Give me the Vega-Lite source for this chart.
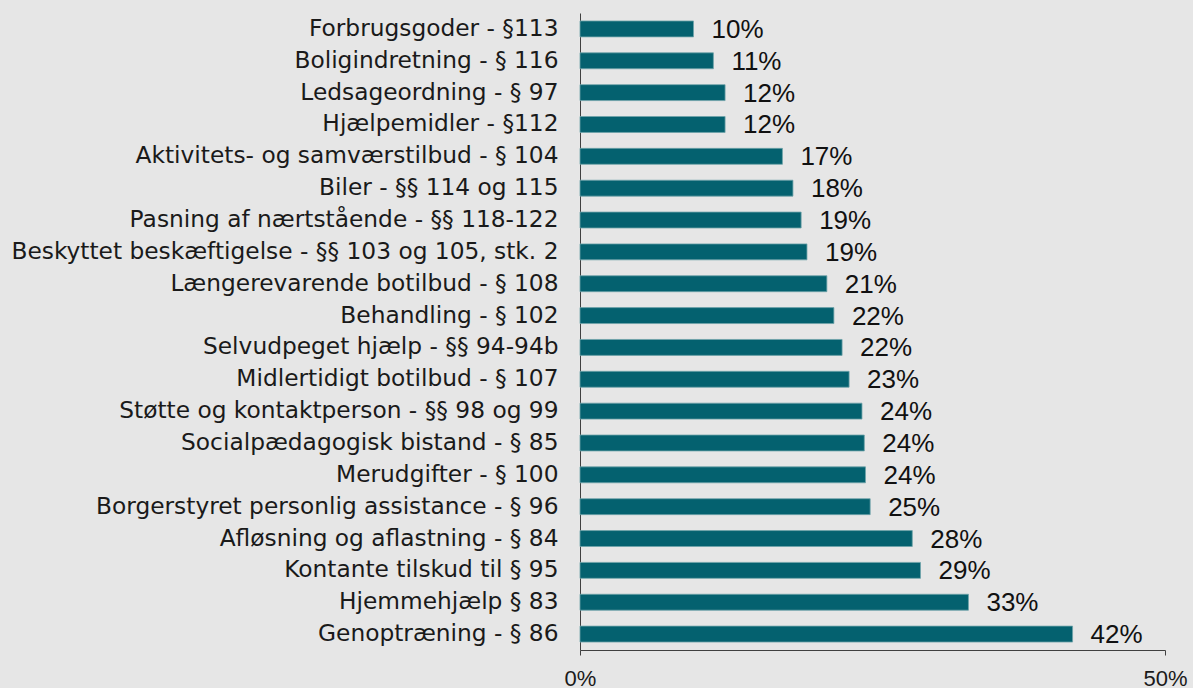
{
  "$schema": "https://vega.github.io/schema/vega-lite/v6.json",
  "width": 585,
  "height": 637,
  "autosize": {"type": "none"},
  "padding": {"left": 580, "top": 13, "right": 28, "bottom": 38},
  "background": "#e6e6e6",
  "config": {"view": {"stroke": null}},
  "data": {"values": [
    {"cat": "Forbrugsgoder - §113", "v": 0.097},
    {"cat": "Boligindretning - § 116", "v": 0.114},
    {"cat": "Ledsageordning - § 97", "v": 0.124},
    {"cat": "Hjælpemidler - §112", "v": 0.124},
    {"cat": "Aktivitets- og samværstilbud - § 104", "v": 0.173},
    {"cat": "Biler - §§ 114 og 115", "v": 0.182},
    {"cat": "Pasning af nærtstående - §§ 118-122", "v": 0.189},
    {"cat": "Beskyttet beskæftigelse - §§ 103 og 105, stk. 2", "v": 0.194},
    {"cat": "Længerevarende botilbud - § 108", "v": 0.211},
    {"cat": "Behandling - § 102", "v": 0.217},
    {"cat": "Selvudpeget hjælp - §§ 94-94b", "v": 0.224},
    {"cat": "Midlertidigt botilbud - § 107", "v": 0.230},
    {"cat": "Støtte og kontaktperson - §§ 98 og 99", "v": 0.241},
    {"cat": "Socialpædagogisk bistand - § 85", "v": 0.243},
    {"cat": "Merudgifter - § 100", "v": 0.244},
    {"cat": "Borgerstyret personlig assistance - § 96", "v": 0.248},
    {"cat": "Afløsning og aflastning - § 84", "v": 0.284},
    {"cat": "Kontante tilskud til § 95", "v": 0.291},
    {"cat": "Hjemmehjælp § 83", "v": 0.332},
    {"cat": "Genoptræning - § 86", "v": 0.421}
  ]},
  "encoding": {
    "y": {
      "field": "cat", "type": "nominal", "sort": null,
      "scale": {"paddingInner": 0.5, "paddingOuter": 0.25},
      "axis": {
        "title": null, "ticks": false, "domain": true, "domainColor": "#404040", "domainWidth": 1,
        "labelFont": "DejaVu Sans", "labelFontSize": 23.3, "labelColor": "#1a1a1a",
        "labelPadding": 22, "labelLimit": 0
      }
    },
    "x": {
      "field": "v", "type": "quantitative",
      "scale": {"domain": [0, 0.5]},
      "axis": {
        "title": null, "values": [0, 0.5], "format": ".0%", "grid": false,
        "domain": true, "domainColor": "#404040", "domainWidth": 1.2,
        "ticks": true, "tickColor": "#404040", "tickSize": 5, "tickWidth": 1,
        "labelFlush": false,
        "labelFont": "Liberation Sans", "labelFontSize": 22, "labelColor": "#1a1a1a",
        "labelPadding": 13
      }
    }
  },
  "layer": [
    {"mark": {"type": "bar", "color": "#04616f", "stroke": "#6fa3aa", "strokeWidth": 0.8}},
    {"mark": {"type": "text", "align": "left", "baseline": "middle", "dx": 18, "dy": 1, "font": "Liberation Sans", "fontSize": 26, "color": "#111111"},
     "encoding": {"text": {"field": "v", "type": "quantitative", "format": ".0%"}}}
  ]
}
